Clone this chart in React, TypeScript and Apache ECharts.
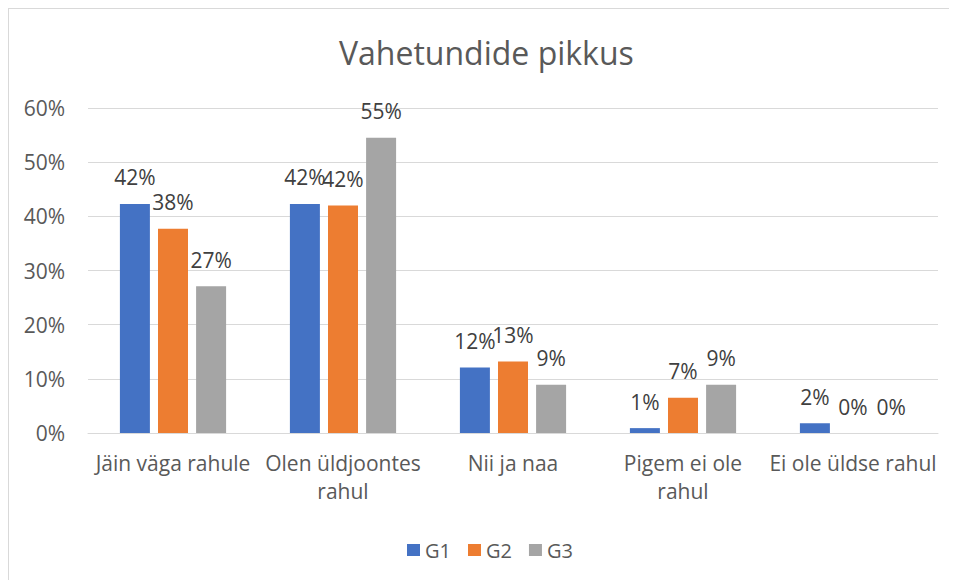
import React, { useEffect, useRef } from "react";
import * as echarts from "echarts";

const categories = [
  "Jäin väga rahule",
  "Olen üldjoontes\nrahul",
  "Nii ja naa",
  "Pigem ei ole\nrahul",
  "Ei ole üldse rahul",
];
const seriesNames = ["G1", "G2", "G3"];
const g1 = [42.3, 42.3, 12.1, 0.9, 1.8];
const g2 = [37.7, 42.0, 13.2, 6.5, 0];
const g3 = [27.1, 54.5, 8.9, 8.9, 0];
const yTicks = { min: 0, max: 60, interval: 10 };
const colors = ["#4472C4", "#ED7D31", "#A5A5A5"];

const FONT = "'Open Sans', 'Noto Sans', sans-serif";

export default function App() {
  const ref = useRef<HTMLDivElement>(null);
  useEffect(() => {
    if (!ref.current) return;
    const chart = echarts.init(ref.current, undefined, { renderer: "svg" });
    const values = [g1, g2, g3];
    chart.setOption({
      animation: false,
      textStyle: { fontFamily: FONT },
      title: {
        text: "Vahetundide pikkus",
        left: 325,
        top: 22,
        textStyle: { fontFamily: FONT, fontSize: 32, fontWeight: "normal", color: "#595959" },
      },
      legend: {
        top: 526,
        left: 393,
        itemWidth: 13,
        itemHeight: 12,
        itemGap: 17,
        icon: "rect",
        textStyle: { fontFamily: FONT, fontSize: 20, color: "#595959" },
        data: seriesNames,
      },
      grid: { left: 79, right: 11, top: 99, height: 325 },
      xAxis: {
        type: "category",
        data: categories,
        axisLine: { lineStyle: { color: "#D9D9D9", width: 1 } },
        axisTick: { show: false },
        axisLabel: {
          fontFamily: FONT,
          fontSize: 21,
          color: "#595959",
          margin: 16,
          lineHeight: 28,
          interval: 0,
        },
      },
      yAxis: {
        type: "value",
        min: yTicks.min,
        max: yTicks.max,
        interval: yTicks.interval,
        axisLine: { show: false },
        axisTick: { show: false },
        splitLine: { lineStyle: { color: "#D9D9D9", width: 1 } },
        axisLabel: {
          fontFamily: FONT,
          fontSize: 21,
          color: "#595959",
          margin: 23,
          formatter: "{value}%",
        },
      },
      series: seriesNames.map((name, i) => ({
        name,
        type: "bar",
        data: values[i],
        barWidth: 30,
        barGap: "27%",
        itemStyle: { color: colors[i] },
        label: {
          show: true,
          position: "top",
          distance: 16,
          fontFamily: FONT,
          fontSize: 21,
          color: "#404040",
          formatter: (p: any) => Math.round(p.value) + "%",
        },
      })),
    });
    return () => chart.dispose();
  }, []);
  return (
    <div
      style={{
        width: 942,
        height: 600,
        border: "1px solid #D9D9D9",
        boxSizing: "border-box",
        background: "#fff",
      }}
    >
      <div ref={ref} style={{ width: 940, height: 598 }} />
    </div>
  );
}
